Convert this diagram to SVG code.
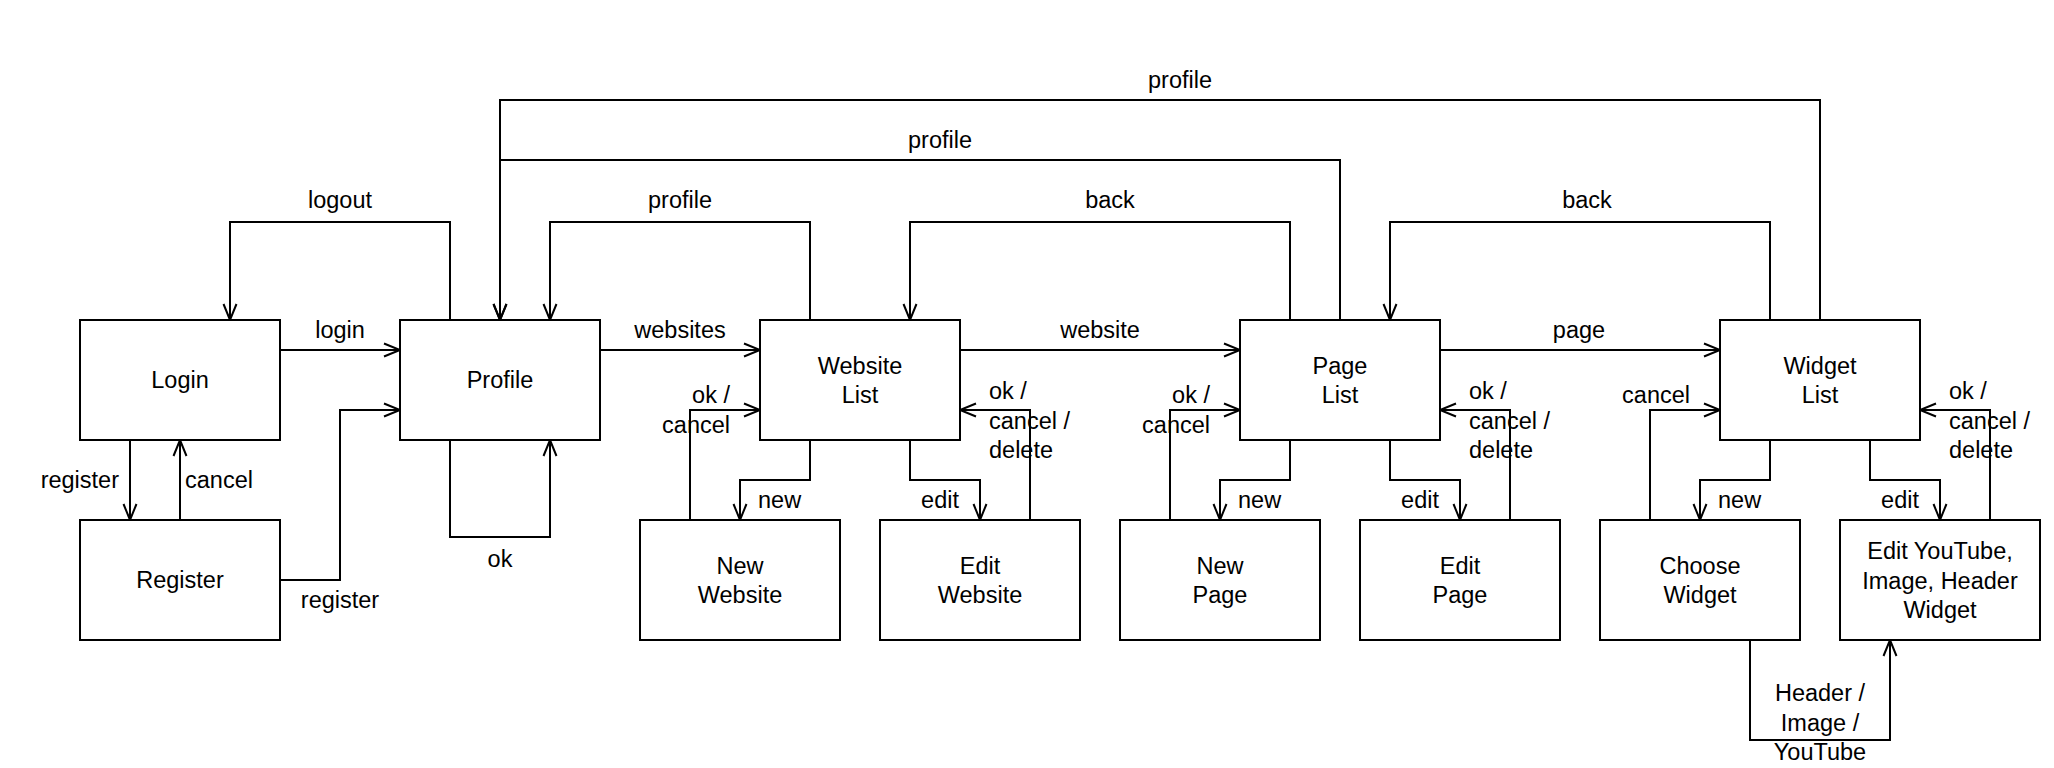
<svg xmlns="http://www.w3.org/2000/svg" width="2054" height="768" viewBox="0 0 2054 768">
<style>
.n rect{fill:#fff;stroke:#000;stroke-width:2}
text{font-family:"Liberation Sans",Arial,Helvetica,sans-serif;font-size:23.5px;fill:#000}
.c{text-anchor:middle}
.e{text-anchor:end}
#edges path{fill:none;stroke:#000;stroke-width:2;marker-end:url(#a)}
</style>
<defs>
<marker id="a" markerUnits="userSpaceOnUse" viewBox="-18 -8 20 16" markerWidth="20" markerHeight="16" refX="0" refY="0" orient="auto">
<path d="M-16,-6.5 L0,0 L-16,6.5" fill="none" stroke="#000" stroke-width="2"/>
</marker>
</defs>
<rect width="2054" height="768" fill="#fff"/>
<g id="edges">
<path d="M280,350 H400"/>
<path d="M130,440 V520"/>
<path d="M180,520 V440"/>
<path d="M280,580 H340 V410 H400"/>
<path d="M450,320 V222 H230 V320"/>
<path d="M450,440 V537 H550 V440"/>
<path d="M600,350 H760"/>
<path d="M810,320 V222 H550 V320"/>
<path d="M810,440 V480 H740 V520"/>
<path d="M910,440 V480 H980 V520"/>
<path d="M690,520 V410 H760"/>
<path d="M1030,520 V410 H960"/>
<path d="M960,350 H1240"/>
<path d="M1290,320 V222 H910 V320"/>
<path d="M1340,320 V160 H500 V320"/>
<path d="M1290,440 V480 H1220 V520"/>
<path d="M1390,440 V480 H1460 V520"/>
<path d="M1170,520 V410 H1240"/>
<path d="M1510,520 V410 H1440"/>
<path d="M1440,350 H1720"/>
<path d="M1770,320 V222 H1390 V320"/>
<path d="M1820,320 V100 H500 V320"/>
<path d="M1770,440 V480 H1700 V520"/>
<path d="M1870,440 V480 H1940 V520"/>
<path d="M1650,520 V410 H1720"/>
<path d="M1990,520 V410 H1920"/>
<path d="M1750,640 V740 H1890 V640"/>
</g>
<g id="edge-labels">
<text class="c" x="340" y="338">login</text>
<text class="e" x="119" y="488">register</text>
<text x="185" y="488">cancel</text>
<text class="c" x="340" y="608">register</text>
<text class="c" x="340" y="208">logout</text>
<text class="c" x="500" y="567">ok</text>
<text class="c" x="680" y="338">websites</text>
<text class="c" x="680" y="208">profile</text>
<text x="758" y="508">new</text>
<text class="e" x="959" y="508">edit</text>
<text class="e" x="730" y="403">ok /</text>
<text class="e" x="730" y="433">cancel</text>
<text x="989" y="398.5">ok /</text>
<text x="989" y="428.5">cancel /</text>
<text x="989" y="458">delete</text>
<text class="c" x="1100" y="338">website</text>
<text class="c" x="1110" y="208">back</text>
<text class="c" x="940" y="148">profile</text>
<text x="1238" y="508">new</text>
<text class="e" x="1439" y="508">edit</text>
<text class="e" x="1210" y="403">ok /</text>
<text class="e" x="1210" y="433">cancel</text>
<text x="1469" y="398.5">ok /</text>
<text x="1469" y="428.5">cancel /</text>
<text x="1469" y="458">delete</text>
<text class="c" x="1579" y="338">page</text>
<text class="c" x="1587" y="208">back</text>
<text class="c" x="1180" y="88">profile</text>
<text x="1718" y="508">new</text>
<text class="e" x="1919" y="508">edit</text>
<text class="e" x="1690" y="403">cancel</text>
<text x="1949" y="398.5">ok /</text>
<text x="1949" y="428.5">cancel /</text>
<text x="1949" y="458">delete</text>
<text class="c" x="1820" y="701">Header /</text>
<text class="c" x="1820" y="731">Image /</text>
<text class="c" x="1820" y="760">YouTube</text>
</g>
<g id="login" class="n"><rect x="80" y="320" width="200" height="120"/><text class="c" x="180" y="388">Login</text></g>
<g id="profile" class="n"><rect x="400" y="320" width="200" height="120"/><text class="c" x="500" y="388">Profile</text></g>
<g id="register" class="n"><rect x="80" y="520" width="200" height="120"/><text class="c" x="180" y="588">Register</text></g>
<g id="website-list" class="n"><rect x="760" y="320" width="200" height="120"/><text class="c" x="860" y="373.5">Website</text><text class="c" x="860" y="403">List</text></g>
<g id="new-website" class="n"><rect x="640" y="520" width="200" height="120"/><text class="c" x="740" y="573.5">New</text><text class="c" x="740" y="603">Website</text></g>
<g id="edit-website" class="n"><rect x="880" y="520" width="200" height="120"/><text class="c" x="980" y="573.5">Edit</text><text class="c" x="980" y="603">Website</text></g>
<g id="page-list" class="n"><rect x="1240" y="320" width="200" height="120"/><text class="c" x="1340" y="373.5">Page</text><text class="c" x="1340" y="403">List</text></g>
<g id="new-page" class="n"><rect x="1120" y="520" width="200" height="120"/><text class="c" x="1220" y="573.5">New</text><text class="c" x="1220" y="603">Page</text></g>
<g id="edit-page" class="n"><rect x="1360" y="520" width="200" height="120"/><text class="c" x="1460" y="573.5">Edit</text><text class="c" x="1460" y="603">Page</text></g>
<g id="widget-list" class="n"><rect x="1720" y="320" width="200" height="120"/><text class="c" x="1820" y="373.5">Widget</text><text class="c" x="1820" y="403">List</text></g>
<g id="choose-widget" class="n"><rect x="1600" y="520" width="200" height="120"/><text class="c" x="1700" y="573.5">Choose</text><text class="c" x="1700" y="603">Widget</text></g>
<g id="edit-widget" class="n"><rect x="1840" y="520" width="200" height="120"/><text class="c" x="1940" y="559">Edit YouTube,</text><text class="c" x="1940" y="588.5">Image, Header</text><text class="c" x="1940" y="618">Widget</text></g>
</svg>
